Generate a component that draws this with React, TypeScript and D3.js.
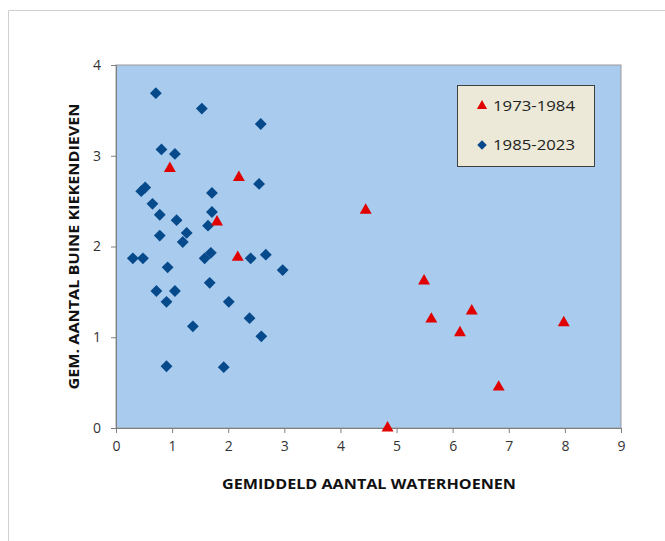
import React, { useRef, useEffect } from 'react';
import * as d3 from 'd3';

// Gemiddeld aantal waterhoenen (x) vs gem. aantal bruine kiekendieven (y)
const oudX = [0.96, 2.19, 1.80, 2.17, 4.45, 5.49, 5.62, 6.34, 6.13, 7.98, 6.82, 4.84];
const oudY = [2.86, 2.76, 2.27, 1.88, 2.40, 1.62, 1.20, 1.29, 1.05, 1.16, 0.45, 0.0];

const nieuwX = [0.71, 1.53, 2.58, 0.81, 1.05, 0.45, 0.52, 0.65, 0.78, 1.08, 0.78, 1.26, 1.19,
  0.30, 0.48, 0.92, 1.71, 1.71, 1.64, 1.58, 1.69, 0.72, 1.05, 0.90, 1.67, 2.01, 1.37, 2.38,
  2.59, 0.90, 1.92, 2.40, 2.67, 2.97, 2.55];
const nieuwY = [3.69, 3.52, 3.35, 3.07, 3.02, 2.61, 2.65, 2.47, 2.35, 2.29, 2.12, 2.15, 2.05,
  1.87, 1.87, 1.77, 2.59, 2.38, 2.23, 1.87, 1.93, 1.51, 1.51, 1.39, 1.60, 1.39, 1.12, 1.21,
  1.01, 0.68, 0.67, 1.87, 1.91, 1.74, 2.69];

const xTicks = [0, 1, 2, 3, 4, 5, 6, 7, 8, 9];
const yTicks = [0, 1, 2, 3, 4];
const legendLabels = ['1973-1984', '1985-2023'];

const W = 665;
const H = 541;
const plot = { left: 116, top: 65, right: 621, bottom: 428 };
const font = "'Open Sans', 'DejaVu Sans', sans-serif";

const Chart: React.FC = () => {
  const ref = useRef<SVGSVGElement>(null);

  useEffect(() => {
    if (!ref.current) return;
    const svg = d3.select(ref.current);
    svg.selectAll('*').remove();

    const x = d3.scaleLinear().domain([0, 9]).range([plot.left, plot.right]);
    const y = d3.scaleLinear().domain([0, 4]).range([plot.bottom, plot.top]);

    // buitenrand
    svg.append('path')
      .attr('d', `M8.5,${H} V10.5 H${W}`)
      .attr('fill', 'none')
      .attr('stroke', '#d0d0d0');

    // plotvlak
    svg.append('rect')
      .attr('x', plot.left).attr('y', plot.top)
      .attr('width', plot.right - plot.left).attr('height', plot.bottom - plot.top)
      .attr('fill', '#a9cbee')
      .attr('stroke', '#9a9a9a');

    const xAxis = svg.append('g')
      .attr('transform', `translate(0,${plot.bottom})`)
      .call(d3.axisBottom(x).tickValues(xTicks).tickSize(5).tickPadding(8).tickFormat(d3.format('d')));
    const yAxis = svg.append('g')
      .attr('transform', `translate(${plot.left},0)`)
      .call(d3.axisLeft(y).tickValues(yTicks).tickSize(5).tickPadding(10).tickFormat(d3.format('d')));

    [xAxis, yAxis].forEach(a => {
      a.select('.domain').attr('stroke', '#7f7f7f');
      a.selectAll('.tick line').attr('stroke', '#7f7f7f');
      a.selectAll('.tick text')
        .attr('fill', '#333')
        .style('font-family', font)
        .style('font-size', '14px');
    });

    const diamond = d3.symbol().type(d3.symbolSquare).size(70)();
    const triangle = d3.symbol().type(d3.symbolTriangle).size(62)();

    svg.append('g').selectAll('path')
      .data(d3.range(nieuwX.length))
      .enter().append('path')
      .attr('d', diamond)
      .attr('transform', i => `translate(${x(nieuwX[i])},${y(nieuwY[i])}) rotate(45)`)
      .attr('fill', '#064a8c');

    svg.append('g').selectAll('path')
      .data(d3.range(oudX.length))
      .enter().append('path')
      .attr('d', triangle)
      .attr('transform', i => `translate(${x(oudX[i])},${y(oudY[i])})`)
      .attr('fill', '#e00000');

    // legenda
    const lg = svg.append('g').attr('transform', 'translate(457,85)');
    lg.append('rect')
      .attr('x', 0.5).attr('y', 0.5)
      .attr('width', 137).attr('height', 81)
      .attr('fill', '#ece9d8')
      .attr('stroke', '#404040');
    lg.append('path')
      .attr('d', d3.symbol().type(d3.symbolTriangle).size(45)())
      .attr('transform', 'translate(25,21)')
      .attr('fill', '#e00000');
    lg.append('path')
      .attr('d', d3.symbol().type(d3.symbolSquare).size(45)())
      .attr('transform', 'translate(25,60) rotate(45)')
      .attr('fill', '#064a8c');
    legendLabels.forEach((t, i) => {
      lg.append('text')
        .attr('x', 36).attr('y', 21 + i * 39)
        .attr('dy', '0.35em')
        .attr('fill', '#222')
        .attr('textLength', 82)
        .attr('lengthAdjust', 'spacingAndGlyphs')
        .style('font-family', font)
        .style('font-size', '15px')
        .text(t);
    });

    // astitels
    svg.append('text')
      .attr('x', 369)
      .attr('y', 484)
      .attr('dy', '0.35em')
      .attr('text-anchor', 'middle')
      .attr('fill', '#111')
      .attr('textLength', 294)
      .attr('lengthAdjust', 'spacingAndGlyphs')
      .style('font-family', font)
      .style('font-weight', 'bold')
      .style('font-size', '14px')
      .text('GEMIDDELD AANTAL WATERHOENEN');

    svg.append('text')
      .attr('transform', `translate(74,${(plot.top + plot.bottom) / 2}) rotate(-90)`)
      .attr('dy', '0.35em')
      .attr('text-anchor', 'middle')
      .attr('fill', '#111')
      .attr('textLength', 286)
      .attr('lengthAdjust', 'spacingAndGlyphs')
      .style('font-family', font)
      .style('font-weight', 'bold')
      .style('font-size', '14px')
      .text('GEM. AANTAL BUINE KIEKENDIEVEN');
  }, []);

  return (
    <svg ref={ref} width={W} height={H}
      style={{ position: 'absolute', left: 0, top: 0, background: '#fff' }} />
  );
};

export default function App() {
  return <Chart />;
}
